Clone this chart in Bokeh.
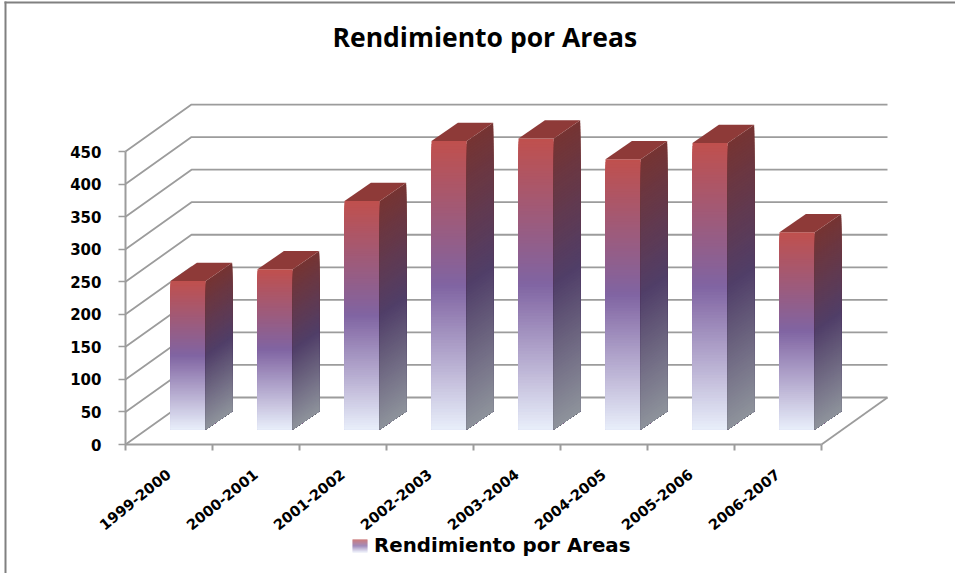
from bokeh.embed import file_html
from bokeh.resources import INLINE
from bokeh.plotting import figure
from bokeh.models import (Range1d, LinearAxis, FixedTicker, BoxAnnotation, Label,
                          Legend, LegendItem)

title_text = "Rendimiento por Areas"
legend_text = "Rendimiento por Areas"
categories = ["1999-2000", "2000-2001", "2001-2002", "2002-2003",
              "2003-2004", "2004-2005", "2005-2006", "2006-2007"]
values = [228, 246, 351, 443, 447, 415, 440, 303]
y_ticks = [0, 50, 100, 150, 200, 250, 300, 350, 400, 450]

front_stops = [(0.0, (192, 80, 77)), (0.5, (128, 100, 162)), (1.0, (232, 238, 250))]
side_stops = [(0.0, (118, 52, 50)), (0.5, (80, 62, 104)), (1.0, (142, 147, 156))]
top_colour = "#8e3a38"
grid_colour = "#9c9c9c"
FONT = "DejaVu Sans"

# layout of the pseudo-3D box
W, H = 955, 573
ORIGIN_X, ORIGIN_Y = 125, 444   # page pixel of category 0, value 0
PX_X, PX_Y = 87.0, 0.651        # pixels per category, pixels per value unit
WALL_DX, WALL_DY = 66 / PX_X, 47 / PX_Y
BAR_GAP, BAR_W = 45 / PX_X, 35.3 / PX_X
BAR_DX, BAR_DY = 26.4 / PX_X, 18.3 / PX_Y
BAR_BASE = 15 / PX_Y
SLICES = 100


def mix(stops, f):
    for (f0, c0), (f1, c1) in zip(stops, stops[1:]):
        if f <= f1:
            t = (f - f0) / (f1 - f0)
            return "#%02x%02x%02x" % tuple(round(a + (b - a) * t) for a, b in zip(c0, c1))
    return "#%02x%02x%02x" % stops[-1][1]


p = figure(width=W, height=H, output_backend="svg", toolbar_location=None,
           x_range=Range1d(-ORIGIN_X / PX_X, (W - ORIGIN_X) / PX_X),
           y_range=Range1d((ORIGIN_Y - H) / PX_Y, ORIGIN_Y / PX_Y),
           x_axis_type=None, y_axis_type=None,
           min_border=0, background_fill_color="white",
           border_fill_color="white", outline_line_color=None)
p.grid.visible = False

# walls
n = len(categories)
xs, ys = [], []
for t in y_ticks:
    xs.append([0, WALL_DX, n + WALL_DX])
    ys.append([t, t + WALL_DY, t + WALL_DY])
xs.append([n, n + WALL_DX])
ys.append([0, WALL_DY])
p.multi_line(xs, ys, line_color=grid_colour, line_width=1.8)

# bars: painted top colour first, each next slice covering less, so no seams show
for i, v in enumerate(values):
    left = i + BAR_GAP
    right = left + BAR_W
    fl, fr, fb, ft, fc = [], [], [], [], []
    sx, sy, sc = [], [], []
    base = BAR_BASE
    for k in range(SLICES):
        a, b = k / SLICES, (k + 1) / SLICES
        y_hi = BAR_BASE + v * (1 - a)
        mid = (a + b) / 2
        fl.append(left); fr.append(right); fb.append(base); ft.append(y_hi)
        fc.append(mix(front_stops, mid))
        sx.append([right, right + BAR_DX, right + BAR_DX, right])
        sy.append([base, base + BAR_DY, y_hi + BAR_DY, y_hi])
        sc.append(mix(side_stops, mid))
    p.quad(left=fl, right=fr, bottom=fb, top=ft, fill_color=fc, line_color=None)
    p.patches(sx, sy, fill_color=sc, line_color=None)
    top = BAR_BASE + v
    p.patch([left, right, right + BAR_DX, left + BAR_DX],
            [top, top, top + BAR_DY, top + BAR_DY],
            fill_color=top_colour, line_color=None)

# axes, fixed at the corner of the box
label_ticks = [i + 0.5 for i in range(n)]
xaxis = LinearAxis(ticker=FixedTicker(ticks=label_ticks, minor_ticks=list(range(n + 1))),
                   bounds=(0, n), fixed_location=0,
                   major_label_overrides=dict(zip(label_ticks, categories)),
                   major_label_orientation=0.68,
                   major_label_standoff=22,
                   major_label_text_font=FONT, major_label_text_font_size="14.5px",
                   major_label_text_font_style="bold", major_label_text_color="#000000",
                   major_tick_out=0, major_tick_in=0, minor_tick_out=6, minor_tick_in=0,
                   axis_line_color=grid_colour, axis_line_width=2,
                   minor_tick_line_color=grid_colour, minor_tick_line_width=2)
p.add_layout(xaxis, "below")
yaxis = LinearAxis(ticker=FixedTicker(ticks=y_ticks), bounds=(0, 450), fixed_location=0,
                   major_label_standoff=17,
                   major_label_text_font=FONT, major_label_text_font_size="15px",
                   major_label_text_font_style="bold", major_label_text_color="#000000",
                   major_tick_out=7, major_tick_in=0,
                   axis_line_color=grid_colour, axis_line_width=2,
                   major_tick_line_color=grid_colour, major_tick_line_width=1.6)
p.add_layout(yaxis, "left")


def page_box(l, r, t, b, colour):
    """Box in page pixels, y down; screen units count from the frame's lower left."""
    p.add_layout(BoxAnnotation(left=l, right=r, top=H - t, bottom=H - b,
                               left_units="screen", right_units="screen",
                               top_units="screen", bottom_units="screen",
                               fill_color=colour, fill_alpha=1, line_alpha=0, level="overlay"))


# picture frame
page_box(4, 6, 1, H, "#808080")
page_box(4, W, 1, 3, "#808080")

# title
p.add_layout(Label(x=332, y=H - 36, x_units="screen", y_units="screen", text=title_text,
                   text_font="Open Sans", text_font_size="26.5px", text_font_style="bold",
                   text_color="#000000", text_baseline="middle", text_align="left"))

# legend: an invisible key, with the bars' gradient drawn as the swatch
key = p.quad(left=[0], right=[0], bottom=[0], top=[0], fill_alpha=0, line_alpha=0)
legend = Legend(items=[LegendItem(label=legend_text, renderers=[key])],
                location=(353, H - 557), orientation="horizontal",
                border_line_alpha=0, background_fill_alpha=0,
                padding=0, margin=0, glyph_width=13, glyph_height=11, label_standoff=8,
                label_text_font=FONT, label_text_font_size="19.8px",
                label_text_font_style="bold", label_text_color="#000000")
p.add_layout(legend, "center")
for k in range(13):
    page_box(352, 367, 539 + k, 540 + k, mix(front_stops, (k + 0.5) / 13))

open("out.html", "w").write(file_html(p, INLINE))
